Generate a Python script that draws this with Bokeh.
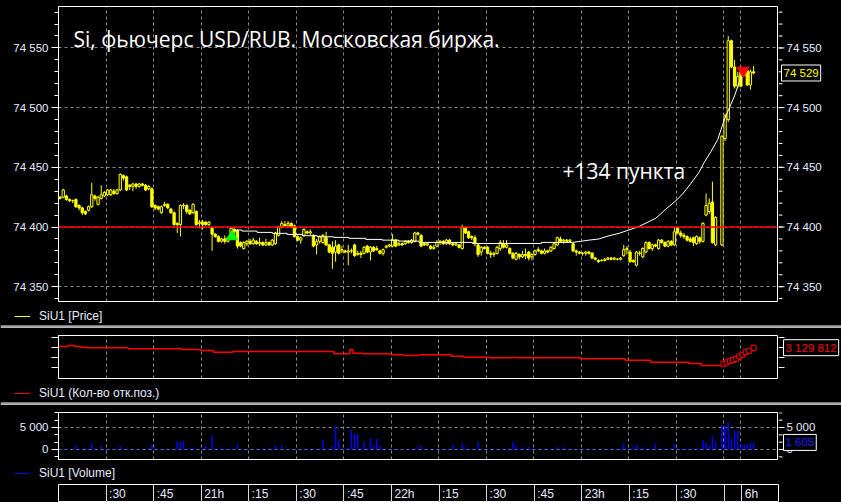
import numpy as np
from bokeh.plotting import figure
from bokeh.layouts import column, row
from bokeh.models import (ColumnDataSource, Range1d, LinearAxis, FixedTicker, Span,
                          Label, Legend, LegendItem, BoxAnnotation)
from bokeh.core.properties import value
from bokeh.embed import file_html
from bokeh.resources import INLINE

# ---------------- data (1-minute candles, minute 0 = 20:15) ----------------
opens = [
    74425, 74425, 74426, 74423, 74422, 74423, 74418, 74416, 74413, 74414,
    74417, 74426, 74419, 74424, 74426, 74427, 74427, 74430, 74428, 74431,
    74443, 74442, 74435, 74434, 74436, 74434, 74436, 74435, 74432, 74432,
    74418, 74417, 74412, 74418, 74419, 74415, 74412, 74403, 74402, 74418,
    74418, 74414, 74412, 74413, 74403, 74404, 74404, 74402, 74399, 74394,
    74392, 74388, 74390, 74388, 74393, 74398, 74397, 74387, 74382, 74386,
    74388, 74386, 74388, 74386, 74387, 74385, 74387, 74385, 74386, 74393,
    74400, 74402, 74401, 74403, 74401, 74392, 74389, 74393, 74396, 74395,
    74393, 74385, 74388, 74387, 74391, 74385, 74383, 74379, 74385, 74380,
    74380, 74379, 74380, 74385, 74377, 74378, 74378, 74384, 74379, 74383,
    74382, 74380, 74378, 74383, 74384, 74384, 74389, 74385, 74386, 74386,
    74388, 74387, 74388, 74395, 74393, 74386, 74385, 74384, 74382, 74384,
    74387, 74388, 74386, 74389, 74386, 74385, 74385, 74382, 74399, 74396,
    74392, 74391, 74385, 74379, 74383, 74383, 74378, 74377, 74378, 74382,
    74386, 74383, 74382, 74378, 74373, 74377, 74375, 74377, 74379, 74375,
    74377, 74381, 74380, 74378, 74380, 74380, 74382, 74385, 74390, 74388,
    74389, 74388, 74386, 74380, 74379, 74378, 74378, 74379, 74378, 74374,
    74372, 74372, 74372, 74373, 74374, 74373, 74373, 74373, 74376, 74381,
    74379, 74372, 74368, 74378, 74375, 74379, 74387, 74382, 74385, 74382,
    74389, 74387, 74384, 74388, 74385, 74399, 74395, 74393, 74392, 74390,
    74391, 74386, 74391, 74388, 74410, 74413, 74421, 74385, None, 74385,
    74474, 74490, 74556, 74534, 74518, 74532, 74530, 74531, 74519, 74530,
]
highs = [
    74426, 74432, 74427, 74424, 74423, 74424, 74419, 74417, 74414, 74418,
    74437, 74427, 74426, 74435, 74430, 74432, 74432, 74432, 74432, 74445,
    74444, 74443, 74436, 74437, 74437, 74437, 74437, 74436, 74435, 74433,
    74419, 74418, 74418, 74421, 74420, 74416, 74413, 74404, 74419, 74420,
    74419, 74415, 74420, 74414, 74406, 74406, 74405, 74405, 74400, 74395,
    74393, 74391, 74393, 74392, 74400, 74399, 74398, 74388, 74388, 74389,
    74390, 74391, 74389, 74391, 74388, 74390, 74388, 74390, 74396, 74401,
    74405, 74405, 74405, 74404, 74402, 74393, 74392, 74399, 74397, 74398,
    74394, 74390, 74393, 74394, 74396, 74386, 74388, 74389, 74386, 74384,
    74381, 74385, 74382, 74386, 74380, 74380, 74384, 74385, 74384, 74384,
    74384, 74381, 74382, 74385, 74386, 74394, 74390, 74388, 74387, 74389,
    74389, 74390, 74396, 74396, 74394, 74387, 74387, 74385, 74385, 74389,
    74389, 74389, 74390, 74390, 74387, 74387, 74386, 74402, 74400, 74397,
    74393, 74393, 74386, 74384, 74384, 74384, 74380, 74379, 74384, 74389,
    74389, 74389, 74383, 74379, 74379, 74378, 74380, 74382, 74380, 74378,
    74381, 74383, 74381, 74382, 74381, 74384, 74387, 74392, 74392, 74390,
    74390, 74390, 74387, 74381, 74380, 74379, 74380, 74380, 74379, 74375,
    74373, 74373, 74374, 74375, 74375, 74375, 74374, 74375, 74385, 74384,
    74381, 74373, 74380, 74380, 74383, 74388, 74388, 74386, 74386, 74390,
    74390, 74388, 74389, 74389, 74400, 74400, 74397, 74395, 74393, 74392,
    74392, 74393, 74392, 74404, 74428, 74424, 74438, 74409, None, 74477,
    74495, 74560, 74557, 74540, 74530, 74534, 74532, 74533, 74532, 74535,
]
lows = [
    74423, 74424, 74422, 74421, 74420, 74416, 74414, 74410, 74410, 74413,
    74416, 74422, 74418, 74423, 74425, 74426, 74426, 74427, 74427, 74430,
    74439, 74430, 74431, 74430, 74432, 74433, 74434, 74430, 74431, 74416,
    74414, 74414, 74411, 74417, 74415, 74411, 74401, 74395, 74392, 74415,
    74411, 74410, 74411, 74401, 74399, 74398, 74401, 74401, 74380, 74391,
    74387, 74387, 74386, 74387, 74392, 74394, 74382, 74383, 74381, 74384,
    74385, 74385, 74385, 74384, 74384, 74384, 74384, 74384, 74385, 74392,
    74399, 74400, 74400, 74399, 74391, 74388, 74386, 74392, 74394, 74393,
    74383, 74377, 74386, 74386, 74384, 74378, 74365, 74371, 74377, 74378,
    74378, 74368, 74378, 74375, 74376, 74374, 74377, 74378, 74372, 74379,
    74380, 74377, 74376, 74382, 74383, 74383, 74383, 74384, 74384, 74385,
    74386, 74386, 74387, 74393, 74383, 74384, 74384, 74381, 74381, 74383,
    74385, 74385, 74385, 74385, 74384, 74384, 74382, 74381, 74394, 74390,
    74389, 74384, 74375, 74376, 74381, 74377, 74374, 74375, 74377, 74380,
    74382, 74382, 74377, 74373, 74372, 74373, 74374, 74373, 74372, 74372,
    74376, 74379, 74377, 74377, 74378, 74379, 74381, 74384, 74387, 74386,
    74387, 74387, 74379, 74376, 74377, 74376, 74376, 74377, 74373, 74372,
    74370, 74371, 74371, 74372, 74372, 74372, 74372, 74372, 74375, 74377,
    74370, 74370, 74367, 74376, 74374, 74378, 74381, 74380, 74383, 74381,
    74386, 74383, 74383, 74384, 74384, 74394, 74391, 74390, 74388, 74387,
    74384, 74385, 74386, 74387, 74409, 74411, 74386, 74384, None, 74384,
    74472, 74488, 74533, 74516, 74516, 74517, 74526, 74518, 74515, 74528,
]
closes = [
    74424, 74431, 74423, 74422, 74422, 74417, 74416, 74412, 74411, 74417,
    74427, 74424, 74425, 74427, 74429, 74431, 74431, 74428, 74431, 74444,
    74441, 74431, 74434, 74436, 74434, 74436, 74435, 74431, 74434, 74417,
    74416, 74415, 74417, 74419, 74416, 74412, 74402, 74402, 74418, 74418,
    74413, 74411, 74419, 74402, 74404, 74402, 74402, 74404, 74394, 74392,
    74388, 74390, 74388, 74391, 74399, 74396, 74384, 74384, 74387, 74388,
    74386, 74389, 74386, 74387, 74385, 74387, 74385, 74389, 74395, 74400,
    74403, 74401, 74403, 74400, 74392, 74389, 74391, 74398, 74395, 74396,
    74384, 74388, 74392, 74393, 74385, 74379, 74378, 74384, 74378, 74381,
    74379, 74380, 74380, 74376, 74378, 74377, 74383, 74379, 74383, 74380,
    74381, 74378, 74381, 74384, 74385, 74389, 74384, 74386, 74385, 74388,
    74387, 74389, 74395, 74394, 74384, 74385, 74386, 74382, 74383, 74387,
    74388, 74386, 74389, 74386, 74385, 74386, 74383, 74400, 74395, 74391,
    74391, 74386, 74377, 74383, 74382, 74378, 74377, 74378, 74383, 74387,
    74383, 74385, 74378, 74374, 74378, 74375, 74377, 74376, 74374, 74377,
    74380, 74380, 74378, 74380, 74379, 74383, 74386, 74391, 74388, 74389,
    74388, 74389, 74380, 74379, 74378, 74378, 74379, 74378, 74374, 74373,
    74371, 74372, 74373, 74374, 74373, 74374, 74373, 74374, 74381, 74382,
    74371, 74371, 74379, 74378, 74382, 74387, 74382, 74385, 74384, 74389,
    74387, 74384, 74388, 74385, 74396, 74395, 74393, 74392, 74389, 74388,
    74387, 74392, 74388, 74403, 74418, 74420, 74387, 74408, None, 74476,
    74493, 74556, 74534, 74518, 74526, 74518, 74527, 74519, 74530, 74529,
]
volumes = [
    120, 80, 200, 60, 150, 970, 250, 90, 370, 180,
    1420, 300, 120, 750, 200, 90, 150, 110, 230, 750,
    180, 240, 100, 160, 90, 140, 200, 80, 260, 1120,
    300, 150, 120, 90, 210, 130, 180, 1870, 1720, 1870,
    160, 220, 370, 140, 100, 250, 970, 180, 3200, 300,
    140, 450, 200, 110, 160, 230, 1270, 150, 90, 120,
    180, 80, 140, 200, 110, 90, 450, 250, 820, 160,
    970, 130, 220, 150, 180, 90, 110, 200, 140, 250,
    160, 120, 300, 2090, 180, 240, 820, 5220, 2090, 300,
    200, 350, 4550, 3580, 3500, 260, 1870, 310, 2540, 900,
    2310, 820, 200, 150, 90, 130, 180, 110, 140, 100,
    160, 90, 230, 600, 750, 120, 180, 80, 140, 200,
    110, 160, 90, 240, 1040, 130, 200, 1340, 450, 150,
    120, 260, 1720, 180, 140, 100, 220, 160, 130, 90,
    180, 240, 300, 1640, 750, 200, 450, 160, 500, 220,
    130, 170, 90, 200, 120, 160, 240, 520, 140, 500,
    110, 180, 220, 150, 90, 200, 160, 130, 240, 110,
    180, 90, 150, 200, 120, 250, 170, 300, 1490, 220,
    280, 600, 1040, 230, 450, 200, 300, 180, 1270, 260,
    200, 150, 180, 300, 1270, 230, 160, 200, 250, 180,
    300, 220, 400, 2090, 1490, 820, 3060, 1870, 0, 5450,
    5300, 6200, 2500, 4300, 4200, 1100, 1100, 1200, 1500, 1605,
]
# open interest (step points)
oi_t = [0, 3, 5, 7, 9, 22, 39, 45, 49, 55,
        87, 92, 93, 96, 105, 109, 114, 124, 128, 136,
        143, 145, 165, 179, 187, 199, 203, 210, 211, 212,
        213, 214, 215, 216, 217, 218, 219.5]
oi_v = [3131000, 3132000, 3131000, 3130300, 3129700, 3128700, 3128000, 3127000, 3125300, 3126000,
        3123700, 3127700, 3124300, 3123700, 3122700, 3122000, 3122700, 3121300, 3120300, 3119700,
        3120000, 3119700, 3118700, 3117300, 3115300, 3114000, 3112000, 3113700, 3115000, 3116700,
        3117500, 3118700, 3121000, 3122700, 3125300, 3126700, 3129812]
# hand-drawn white trend curve
white_t = [55.3, 57.9, 57.9, 62.7, 62.7, 67.5, 67.5, 72.2, 72.2, 77, 77, 81.7, 81.7, 86.9,
           86.9, 91.7, 91.7, 97, 97, 102.2, 102.2, 107.5, 107.5, 113.8, 113.8, 130.7, 130.7,
           152.5, 152.5, 162.3, 165.4, 167.5, 170.7, 173.5, 177, 183.2, 188.6, 191.8, 195.3,
           197.3, 199.8, 202.3, 204, 206, 208.2, 210.3, 211.9, 213.5, 215.6]
white_p = [74397.5, 74397.5, 74396.6, 74396.6, 74395.5, 74395.5, 74394.7, 74394.7, 74393.8,
           74393.8, 74392.7, 74392.7, 74391.8, 74391.8, 74391.3, 74391.3, 74390.5, 74390.5,
           74389.6, 74389.6, 74389.0, 74389.0, 74388.2, 74388.2, 74387.1, 74387.1, 74386.2,
           74386.2, 74387.1, 74387.1, 74388.2, 74389.0, 74390.0, 74392.4, 74394.7, 74400.3,
           74407.3, 74415.0, 74422.8, 74428.4, 74436.8, 74446.0, 74454.5, 74463.0, 74473.4,
           74490.2, 74500.1, 74509.9, 74526.7]
buy_t, buy_p = [54.8], [74392]
sell_t, sell_p = [216.2], [74531]
level_line = 74400

price_ticks = [74350, 74400, 74450, 74500, 74550]
price_tick_labels = ["74 350", "74 400", "74 450", "74 500", "74 550"]
price_minor = list(range(74340, 74590, 10))
oi_ticks = [3110000, 3120000, 3130000, 3140000]
vol_ticks = [0, 5000]
vol_tick_labels = ["0", "5 000"]
vol_minor = [-1667, 1667, 3333, 6667, 8333]
time_ticks = [15, 30, 45, 60, 75, 90, 105, 120, 135, 150, 165, 180, 195, 210, 215.5]
time_labels = [":30", ":45", "21h", ":15", ":30", ":45", "22h", ":15", ":30", ":45",
               "23h", ":15", ":30", "", "6h"]

title_text = "Si, фьючерс USD/RUB. Московская биржа."
note_text = "+134 пункта"
legend_labels = ["SiU1 [Price]", "SiU1 (Кол-во отк.поз.)", "SiU1 [Volume]"]

# ---------------- style ----------------
FULL_W = 841
MAIN_W = 778          # frame 58..777
SIDE_W = FULL_W - MAIN_W
LB = 58
TXT = "#e6ebff"
FONT = "Liberation Sans"
FS = "11.5px"
GRID = "#8a8a8a"
YEL = "#ffff00"
RED = "#ff0000"
BLUE = "#0000ff"


def fmt(v):
    return f"{int(round(v)):,}".replace(",", " ")


xr = Range1d(0, 227.05)


def bare(width, height, xrange, yrange, **kw):
    opts = dict(width=width, height=height, x_range=xrange, y_range=yrange,
                output_backend="svg", toolbar_location=None, x_axis_location=None,
                y_axis_location=None, background_fill_color="black",
                border_fill_color="black", outline_line_color=None, frame_align=False)
    opts.update(kw)
    p = figure(**opts)
    p.grid.visible = False
    return p


def main_fig(h, yr, top, bottom):
    p = bare(MAIN_W, h, xr, yr, min_border_left=LB, min_border_right=1,
             min_border_top=top, min_border_bottom=bottom,
             outline_line_color="white", outline_line_width=1)
    p.xgrid.visible = True
    p.xgrid.ticker = FixedTicker(ticks=time_ticks)
    p.xgrid.grid_line_color = GRID
    p.xgrid.grid_line_dash = "3 3"
    return p


def side_fig(h, yr, top, bottom):
    return bare(SIDE_W, h, Range1d(0, SIDE_W), yr, min_border_left=0, min_border_right=0,
                min_border_top=top, min_border_bottom=bottom)


def left_axis(p, ticks, minor, labels):
    ax = LinearAxis(ticker=FixedTicker(ticks=ticks, minor_ticks=minor),
                    major_label_overrides=dict(zip(ticks, labels)),
                    axis_line_color="white", major_tick_line_color="white",
                    minor_tick_line_color="white", major_tick_out=7, major_tick_in=0,
                    minor_tick_out=4, minor_tick_in=0,
                    major_label_text_color=TXT, major_label_text_font=FONT,
                    major_label_text_font_size=FS, major_label_standoff=3)
    p.add_layout(ax, "left")


def right_ticks(s, ticks, minor, labels):
    # right-hand scale: tick marks and tick labels next to the plot box
    s.segment(x0=0, y0=ticks, x1=6, y1=ticks, line_color="white", line_width=1)
    if minor:
        s.segment(x0=0, y0=minor, x1=4, y1=minor, line_color="white", line_width=1)
    if labels:
        s.text(x=8, y=ticks, text=labels, text_align="left", text_baseline="middle",
               text_color=TXT, text_font=value(FONT), text_font_size=FS)


def value_box(s, x, v, color):
    s.add_layout(Label(x=x, y=v, x_units="screen", y_units="data", text=fmt(v),
                       text_color=color, text_font=FONT, text_font_size=FS,
                       text_baseline="middle", border_line_color="white",
                       border_line_width=1, background_fill_color="black", padding=2))


def legend_row(h, label, color, bottom, sep):
    f = bare(FULL_W, h, Range1d(0, FULL_W), Range1d(0, h), min_border=0,
             min_border_left=0, min_border_right=0, min_border_top=0, min_border_bottom=0)
    # hidden sample renderer: only provides the legend's line swatch
    r = f.line(x=[0, 1], y=[-50, -50], line_color=color, line_width=1, visible=False)
    f.add_layout(Legend(items=[LegendItem(label=label, renderers=[r])], location=(14, bottom),
                        orientation="horizontal", background_fill_alpha=0, border_line_alpha=0,
                        inactive_fill_alpha=0, label_text_color=TXT, label_text_font=FONT,
                        label_text_font_size="12px", glyph_width=16, glyph_height=12,
                        label_standoff=9, padding=0, margin=0, spacing=0, label_height=14))
    if sep:
        # panel separator strip along the bottom edge of the row
        f.add_layout(BoxAnnotation(bottom=0, top=2, fill_color="#b4b4b4", fill_alpha=1,
                                   line_color=None))
        f.add_layout(BoxAnnotation(bottom=2, top=3, fill_color="#f0f0f0", fill_alpha=1,
                                   line_color=None))
    return f


# ---------------- price panel ----------------
o = np.array(opens, dtype=float)
h = np.array(highs, dtype=float)
l = np.array(lows, dtype=float)
c = np.array(closes, dtype=float)
t = np.arange(len(c)) + 0.5
ok = ~np.isnan(c)
up = ok & (c >= o)
dn = ok & (c < o)
src_all = ColumnDataSource(dict(t=t[ok], h=h[ok], l=l[ok]))
src_up = ColumnDataSource(dict(t=t[up], top=c[up], bot=o[up]))
src_dn = ColumnDataSource(dict(t=t[dn], top=o[dn], bot=c[dn]))

price_range = Range1d(74337.6, 74584.7)
p1 = main_fig(302, price_range, 6, 1)
p1.ygrid.visible = True
p1.ygrid.ticker = FixedTicker(ticks=price_ticks)
p1.ygrid.grid_line_color = GRID
p1.ygrid.grid_line_dash = "3 3"
left_axis(p1, price_ticks, price_minor, price_tick_labels)
p1.add_layout(Span(location=level_line, dimension="width", line_color=RED, line_width=1.5))
p1.segment(x0="t", y0="h", x1="t", y1="l", source=src_all, line_color=YEL, line_width=1)
p1.vbar(x="t", width=0.72, top="top", bottom="bot", source=src_up, fill_color="black",
        line_color=YEL, line_width=1)
p1.vbar(x="t", width=0.72, top="top", bottom="bot", source=src_dn, fill_color=YEL,
        line_color=YEL, line_width=1)
p1.line(white_t, white_p, line_color="white", line_width=1)
p1.scatter(buy_t, buy_p, marker="triangle", size=11, fill_color="#00ff00", line_color="#00ff00")
p1.scatter(sell_t, sell_p, marker="inverted_triangle", size=12, fill_color=RED, line_color=RED)
p1.add_layout(Label(x=15, y=263, x_units="screen", y_units="screen", text=title_text,
                    text_color="white", text_font="Open Sans", text_font_size="21px",
                    text_baseline="middle"))
p1.add_layout(Label(x=504, y=131, x_units="screen", y_units="screen", text=note_text,
                    text_color="white", text_font="Open Sans", text_font_size="21px",
                    text_baseline="middle"))
s1 = side_fig(302, price_range, 6, 1)
right_ticks(s1, price_ticks, price_minor, price_tick_labels)
value_box(s1, 3, closes[-1], YEL)

# ---------------- open interest panel ----------------
oi_range = Range1d(3099000, 3142000)
p2 = main_fig(51, oi_range, 7, 1)
left_axis(p2, oi_ticks, [], [""] * len(oi_ticks))
p2.step(oi_t, oi_v, mode="after", line_color=RED, line_width=1.5)
p2.scatter(oi_t[-10:], oi_v[-10:], marker="square", size=5, fill_color="black",
           line_color=RED, line_width=1)
s2 = side_fig(51, oi_range, 7, 1)
right_ticks(s2, oi_ticks, [], None)
value_box(s2, 5, oi_v[-1], RED)

# ---------------- volume panel ----------------
vol_range = Range1d(-2273, 8409)
p3 = main_fig(55, vol_range, 7, 1)
p3.ygrid.visible = True
p3.ygrid.ticker = FixedTicker(ticks=vol_ticks)
p3.ygrid.grid_line_color = GRID
p3.ygrid.grid_line_dash = "3 3"
left_axis(p3, vol_ticks, vol_minor, vol_tick_labels)
vsrc = ColumnDataSource(dict(t=np.arange(len(volumes)) + 0.5, v=volumes, z=[0] * len(volumes)))
p3.segment(x0="t", y0="z", x1="t", y1="v", source=vsrc, line_color=BLUE, line_width=1.5)
s3 = side_fig(55, vol_range, 7, 1)
right_ticks(s3, vol_ticks, vol_minor, vol_tick_labels)
value_box(s3, 5, volumes[-1], "#1a1aff")

# ---------------- time axis strip ----------------
p4 = bare(FULL_W, 18, xr, Range1d(0, 1), min_border_left=LB, min_border_right=SIDE_W,
          min_border_top=0, min_border_bottom=0, outline_line_color="white")
p4.xgrid.visible = True
p4.xgrid.ticker = FixedTicker(ticks=time_ticks)
p4.xgrid.grid_line_color = "#d8d8d8"
p4.text(x=time_ticks, y=[0.5] * len(time_ticks), text=time_labels, x_offset=3,
        text_align="left", text_baseline="middle", text_color=TXT,
        text_font=value(FONT), text_font_size="12px")

layout = column(
    row(p1, s1, spacing=0),
    legend_row(26, legend_labels[0], YEL, 5, True),
    row(p2, s2, spacing=0),
    legend_row(26, legend_labels[1], RED, 5, True),
    row(p3, s3, spacing=0),
    legend_row(24, legend_labels[2], BLUE, 4, False),
    p4,
    spacing=0,
    styles={"background-color": "black"},
)
open("out.html", "w").write(file_html(layout, INLINE))
